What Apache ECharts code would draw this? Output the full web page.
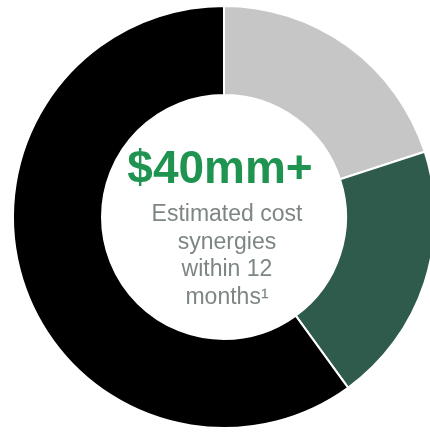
<!DOCTYPE html>
<html>
<head>
<meta charset="utf-8">
<script src="https://cdn.jsdelivr.net/npm/echarts@6/dist/echarts.min.js"></script>
<style>html,body{margin:0;padding:0;background:#fff;}#c{width:430px;height:435px;}</style>
</head>
<body>
<div id="c"></div>
<script>
var categories = ['Segment 1', 'Segment 2', 'Segment 3'];
var values = [20, 20, 60];
var colors = ['#c6c6c6', '#2f5b4c', '#000000'];
var headline = '$40mm+';
var subLines = ['Estimated cost', 'synergies', 'within 12', 'months\u00b9'];

var chart = echarts.init(document.getElementById('c'));
var cx = 224, cy = 217;
var graphics = [{
  type: 'text', x: cx - 4, y: 170,
  style: { text: headline, fill: '#1e9450', font: 'bold 46px "Liberation Sans", Arial, sans-serif', textAlign: 'center', textVerticalAlign: 'middle' }
}];
subLines.forEach(function (t, i) {
  graphics.push({
    type: 'text', x: cx + 3, y: 215 + i * 27.5,
    style: { text: t, fill: '#7d8685', font: '23px "Liberation Sans", Arial, sans-serif', textAlign: 'center', textVerticalAlign: 'middle' }
  });
});
chart.setOption({
  animation: false,
  series: [{
    type: 'pie',
    center: [cx, cy],
    radius: [122, 211],
    startAngle: 90,
    clockwise: true,
    label: { show: false },
    labelLine: { show: false },
    itemStyle: { borderColor: '#ffffff', borderWidth: 2 },
    emphasis: { disabled: true },
    data: categories.map(function (c, i) { return { name: c, value: values[i], itemStyle: { color: colors[i] } }; })
  }],
  graphic: graphics
});
</script>
</body>
</html>
